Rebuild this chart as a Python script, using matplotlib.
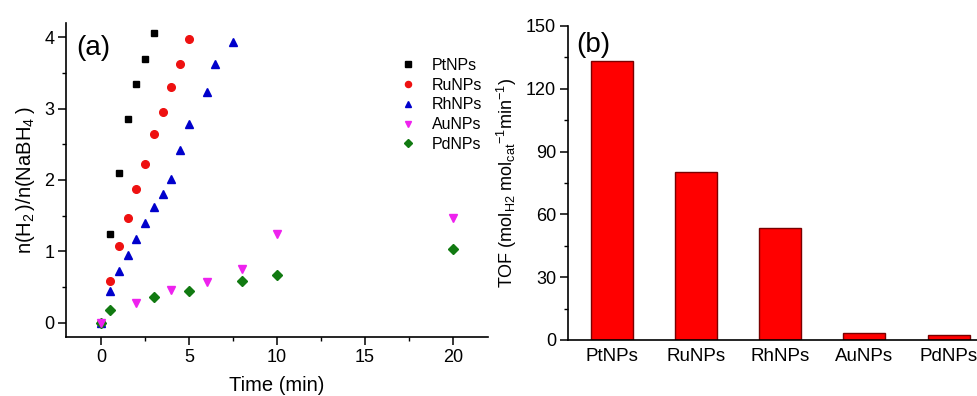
import matplotlib
matplotlib.use("Agg")
import matplotlib.pyplot as plt
from matplotlib.ticker import MultipleLocator

plt.rcParams["font.family"] = ["Liberation Sans", "DejaVu Sans"]
plt.rcParams["mathtext.fontset"] = "custom"
plt.rcParams["mathtext.rm"] = "Liberation Sans"
plt.rcParams["mathtext.it"] = "Liberation Sans:italic"
plt.rcParams["mathtext.default"] = "regular"

# ── Data: H2 evolution vs time ────────────────────────────────────────────────
t_pt = [0, 0.5, 1, 1.5, 2, 2.5, 3]
h_pt = [0, 1.25, 2.10, 2.86, 3.35, 3.70, 4.06]

t_ru = [0, 0.5, 1, 1.5, 2, 2.5, 3, 3.5, 4, 4.5, 5]
h_ru = [0, 0.58, 1.07, 1.47, 1.88, 2.23, 2.64, 2.95, 3.30, 3.62, 3.98]

t_rh = [0, 0.5, 1, 1.5, 2, 2.5, 3, 3.5, 4, 4.5, 5, 6, 6.5, 7.5]
h_rh = [0, 0.45, 0.73, 0.95, 1.17, 1.40, 1.62, 1.80, 2.02, 2.42, 2.78, 3.23, 3.63, 3.94]

t_au = [0, 2, 4, 6, 8, 10, 20]
h_au = [0, 0.27, 0.46, 0.57, 0.75, 1.25, 1.47]

t_pd = [0, 0.5, 3, 5, 8, 10, 20]
h_pd = [0, 0.18, 0.36, 0.445, 0.58, 0.665, 1.03]

# ── Data: turnover frequency ─────────────────────────────────────────────────
catalysts = ["PtNPs", "RuNPs", "RhNPs", "AuNPs", "PdNPs"]
tof = [133.3, 80.1, 53.4, 3.5, 2.5]

W, H = 978, 396
fig = plt.figure(figsize=(W / 100, H / 100), dpi=100)

def style_axes(ax):
    for side in ("top", "right"):
        ax.spines[side].set_visible(False)
    for side in ("left", "bottom"):
        ax.spines[side].set_linewidth(1.2)
    ax.tick_params(which="major", direction="out", length=5.5, width=1.1,
                   labelsize=13, pad=3)
    ax.tick_params(which="minor", direction="out", length=3, width=1.0)

# ── (a) scatter ───────────────────────────────────────────────────────────────
ax1 = fig.add_axes([66 / W, 1 - 337 / H, 422 / W, 314 / H])
series = [
    (t_pt, h_pt, "s", "black", 4.6, "PtNPs"),
    (t_ru, h_ru, "o", "#ee1111", 5.5, "RuNPs"),
    (t_rh, h_rh, "^", "#0000cc", 5.8, "RhNPs"),
    (t_au, h_au, "v", "#ee22ee", 5.8, "AuNPs"),
    (t_pd, h_pd, "D", "#117a11", 4.8, "PdNPs"),
]
for x, y, m, c, ms, lab in series:
    z = 4 if lab == "AuNPs" else 3
    ax1.plot(x, y, ls="none", marker=m, color=c, ms=ms, label=lab, zorder=z)

ax1.set_xlim(-2, 22)
ax1.set_ylim(-0.2, 4.2)
ax1.xaxis.set_major_locator(MultipleLocator(5))
ax1.xaxis.set_minor_locator(MultipleLocator(2.5))
ax1.yaxis.set_major_locator(MultipleLocator(1))
ax1.yaxis.set_minor_locator(MultipleLocator(0.5))
style_axes(ax1)
ax1.set_xlabel("Time (min)", fontsize=14.5, labelpad=7)
ax1.set_ylabel(r"n(H$_2$$\,$)/n(NaBH$_4$$\;$)", fontsize=14.5, labelpad=5)
ax1.text(0.025, 0.92, "(a)", transform=ax1.transAxes, fontsize=20, va="center", ha="left")
ax1.legend(loc="upper right", bbox_to_anchor=(1.02, 0.935), frameon=False, fontsize=11.5,
           handletextpad=0.5, labelspacing=0.3, markerscale=0.8)

# ── (b) bars ──────────────────────────────────────────────────────────────────
ax2 = fig.add_axes([568 / W, 1 - 340 / H, 421 / W, 314 / H])
ax2.bar(range(len(catalysts)), tof, width=0.5, color="#ff0000",
        edgecolor="#7a0000", linewidth=1.0)
ax2.set_xlim(-0.52, 4.48)
ax2.set_ylim(0, 150)
ax2.set_xticks(range(len(catalysts)))
ax2.set_xticklabels(catalysts)
ax2.yaxis.set_major_locator(MultipleLocator(30))
ax2.yaxis.set_minor_locator(MultipleLocator(15))
style_axes(ax2)
ax2.tick_params(axis="x", which="major", length=0, pad=6, labelsize=13.5)
ax2.set_ylabel("TOF (mol$_{H2}$ mol$_{cat}$$^{-1}$min$^{-1}$)", fontsize=13, labelpad=5)
ax2.text(0.02, 0.94, "(b)", transform=ax2.transAxes, fontsize=20, va="center", ha="left")

fig.savefig("out.png", dpi=100)
